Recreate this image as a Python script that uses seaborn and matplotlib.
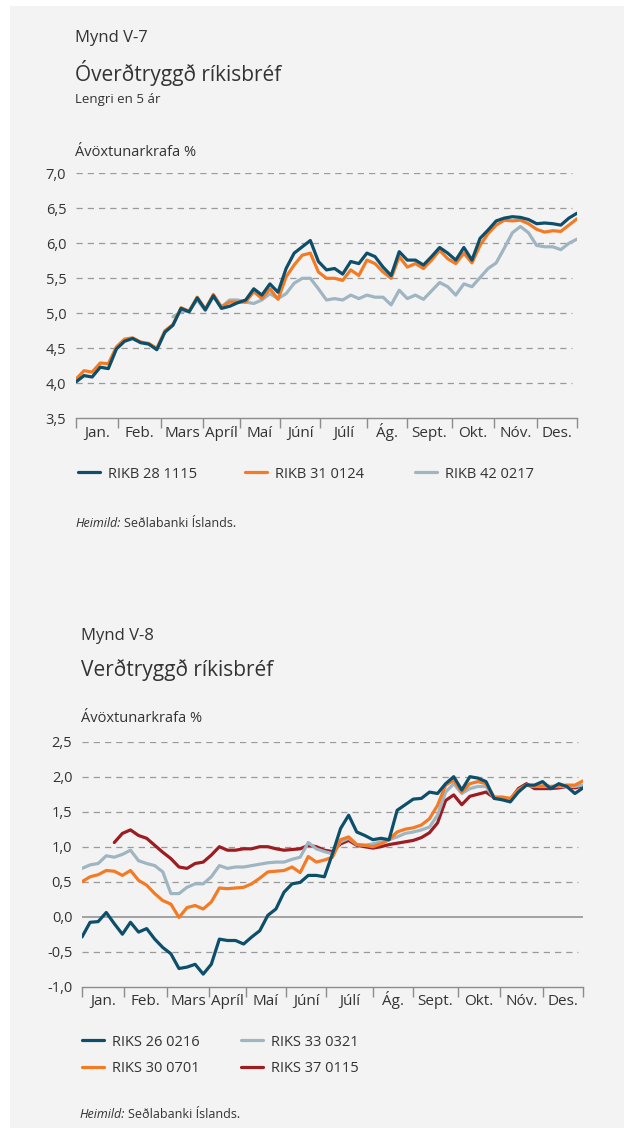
import numpy as np
import pandas as pd
import matplotlib
matplotlib.use("Agg")
import matplotlib.pyplot as plt
import seaborn as sns
from matplotlib.patches import Rectangle

sns.set_theme(style="white")
plt.rcParams['font.family'] = ['Open Sans', 'DejaVu Sans']

# Month labels and trading days per month (x axis is trading-day index)
months = ["Jan.", "Feb.", "Mars", "Apríl", "Maí", "Júní", "Júlí", "Ág.", "Sept.", "Okt.", "Nóv.", "Des."]
month_days = [21, 21, 21, 18, 20, 20, 23, 20, 22, 21, 21, 20]
days = list(range(0, 249, 4))

# Mynd V-7 - óverðtryggð ríkisbréf (ávöxtunarkrafa %)
rikb_28_1115 = [4.02, 4.11, 4.09, 4.23, 4.21, 4.49, 4.60, 4.64, 4.58, 4.56, 4.48, 4.73,
                4.83, 5.07, 5.02, 5.22, 5.05, 5.25, 5.07, 5.10, 5.15, 5.19, 5.35, 5.26,
                5.42, 5.30, 5.64, 5.86, 5.95, 6.04, 5.74, 5.62, 5.64, 5.56, 5.74, 5.71,
                5.86, 5.81, 5.66, 5.54, 5.88, 5.76, 5.76, 5.69, 5.81, 5.94, 5.86, 5.76,
                5.94, 5.76, 6.07, 6.19, 6.32, 6.36, 6.38, 6.37, 6.34, 6.28, 6.29, 6.28,
                6.26, 6.36, 6.43]
rikb_31_0124 = [4.06, 4.18, 4.16, 4.29, 4.28, 4.52, 4.63, 4.65, 4.59, 4.57, 4.50, 4.75,
                4.84, 5.08, 5.03, 5.23, 5.06, 5.27, 5.09, 5.16, 5.16, 5.16, 5.31, 5.21,
                5.35, 5.20, 5.52, 5.69, 5.83, 5.86, 5.59, 5.50, 5.50, 5.47, 5.62, 5.54,
                5.76, 5.71, 5.59, 5.50, 5.81, 5.66, 5.71, 5.64, 5.76, 5.90, 5.78, 5.71,
                5.86, 5.72, 5.97, 6.14, 6.26, 6.33, 6.32, 6.33, 6.28, 6.20, 6.16, 6.18,
                6.17, 6.26, 6.35]
rikb_42_0217 = [np.nan] * 12 + [
                4.95, 5.02, 5.04, 5.19, 5.04, 5.24, 5.09, 5.19, 5.19, 5.16, 5.14, 5.19,
                5.28, 5.21, 5.28, 5.43, 5.50, 5.50, 5.35, 5.19, 5.21, 5.19, 5.26, 5.21,
                5.26, 5.23, 5.23, 5.12, 5.33, 5.21, 5.26, 5.20, 5.32, 5.44, 5.38, 5.26,
                5.42, 5.38, 5.51, 5.64, 5.72, 5.93, 6.15, 6.24, 6.15, 5.97, 5.95, 5.95,
                5.91, 6.00, 6.06]

# Mynd V-8 - verðtryggð ríkisbréf (ávöxtunarkrafa %)
riks_26_0216 = [-0.29, -0.08, -0.07, 0.06, -0.10, -0.25, -0.08, -0.22, -0.17, -0.32, -0.44, -0.53,
                -0.74, -0.72, -0.68, -0.82, -0.68, -0.32, -0.34, -0.34, -0.39, -0.29, -0.20, 0.02,
                0.11, 0.35, 0.47, 0.49, 0.59, 0.59, 0.57, 0.90, 1.26, 1.45, 1.21, 1.16,
                1.10, 1.12, 1.10, 1.52, 1.60, 1.68, 1.69, 1.78, 1.76, 1.90, 2.00, 1.81,
                2.00, 1.98, 1.93, 1.69, 1.67, 1.64, 1.78, 1.88, 1.88, 1.93, 1.83, 1.90,
                1.86, 1.76, 1.84]
riks_30_0701 = [0.50, 0.57, 0.60, 0.66, 0.65, 0.59, 0.66, 0.52, 0.45, 0.33, 0.23, 0.18,
                -0.01, 0.13, 0.16, 0.11, 0.21, 0.41, 0.40, 0.41, 0.42, 0.47, 0.55, 0.64,
                0.65, 0.66, 0.71, 0.63, 0.86, 0.78, 0.81, 0.85, 1.10, 1.14, 1.03, 1.02,
                1.00, 1.04, 1.10, 1.21, 1.25, 1.27, 1.31, 1.40, 1.59, 1.88, 1.95, 1.78,
                1.90, 1.93, 1.90, 1.71, 1.71, 1.69, 1.81, 1.88, 1.86, 1.87, 1.86, 1.87,
                1.88, 1.88, 1.94]
riks_33_0321 = [0.69, 0.74, 0.76, 0.87, 0.85, 0.89, 0.95, 0.80, 0.76, 0.73, 0.64, 0.33,
                0.33, 0.42, 0.47, 0.47, 0.57, 0.73, 0.69, 0.71, 0.71, 0.73, 0.75, 0.77,
                0.78, 0.78, 0.82, 0.85, 1.06, 0.97, 0.93, 0.90, 1.07, 1.12, 1.03, 1.02,
                1.04, 1.07, 1.10, 1.14, 1.19, 1.21, 1.24, 1.28, 1.45, 1.78, 1.90, 1.76,
                1.83, 1.86, 1.86, 1.69, 1.69, 1.67, 1.81, 1.88, 1.86, 1.86, 1.86, 1.86,
                1.86, 1.86, 1.88]
riks_37_0115 = [np.nan] * 4 + [
                1.06, 1.19, 1.24, 1.16, 1.12, 1.02, 0.92, 0.83,
                0.71, 0.69, 0.76, 0.78, 0.88, 1.00, 0.95, 0.95, 0.97, 0.97, 1.00, 1.00,
                0.97, 0.95, 0.96, 0.97, 1.02, 1.00, 0.95, 0.93, 1.04, 1.09, 1.02, 1.00,
                0.98, 1.00, 1.03, 1.05, 1.07, 1.09, 1.13, 1.20, 1.34, 1.66, 1.74, 1.60,
                1.72, 1.75, 1.78, 1.70, 1.69, 1.67, 1.83, 1.90, 1.83, 1.83, 1.83, 1.84,
                1.86, 1.84, 1.87]

DARK = "#0d4f6b"
ORANGE = "#f47b25"
GREY = "#9fb5c2"
RED = "#9c1c22"
TXT = "#333333"
GRID = "#9a9a9a"
AXC = "#8c8c8c"

W, H = 624, 1128


def fx(px):
    return px / W


def fy(px):
    return 1 - px / H


def style_axis(ax, ylo, yhi, solid_zero=False):
    bounds = np.cumsum([0] + month_days)
    mids = (bounds[:-1] + bounds[1:]) / 2
    ax.set_xlim(0, bounds[-1])
    ax.set_ylim(ylo, yhi)
    ax.set_facecolor("none")
    for s in ["left", "right", "top"]:
        ax.spines[s].set_visible(False)
    ax.spines["bottom"].set_color(AXC)
    ax.spines["bottom"].set_linewidth(1)
    ax.set_xticks(bounds)
    ax.set_xticklabels([])
    ax.set_xticks(mids, minor=True)
    ax.set_xticklabels(months, minor=True)
    ax.tick_params(axis="x", which="major", length=7, width=1, color=AXC, direction="out", bottom=True)
    ax.tick_params(axis="x", which="minor", length=0, pad=13.5, labelsize=11, labelcolor=TXT)
    for lbl in ax.get_xticklabels(minor=True):
        lbl.set_va("baseline")
    yt = np.arange(ylo, yhi + 0.01, 0.5)
    ax.set_yticks(yt)
    ax.set_yticklabels([f"{v:.1f}".replace(".", ",") for v in yt])
    ax.tick_params(axis="y", length=0, pad=7, labelsize=10.5, labelcolor=TXT)
    ax.grid(False)
    for v in yt[1:]:
        if solid_zero and abs(v) < 1e-9:
            ax.axhline(v, color=AXC, lw=1.1, zorder=1)
        else:
            ax.axhline(v, xmin=0, xmax=0.99, color=GRID, lw=0.9, dashes=(5, 4), zorder=1)
    ax.set_xlabel("")
    ax.set_ylabel("")


def legend_entries(ax, names, spots):
    h, l = ax.get_legend_handles_labels()
    hm = dict(zip(l, h))
    ax.legend_.remove()
    for name, (xp, yp) in zip(names, spots):
        leg = ax.legend([hm[name]], [name], frameon=False, loc="center left",
                        bbox_to_anchor=(fx(xp), fy(yp)), bbox_transform=fig.transFigure,
                        fontsize=10.5, handlelength=1.5, handletextpad=0.55,
                        borderpad=0, borderaxespad=0, labelcolor=TXT)
        ax.add_artist(leg)
    # every entry is already an artist; avoid drawing the last one twice
    ax.legend_ = None


def source_note(xp, yp):
    t = fig.text(fx(xp), fy(yp), "Heimild:", fontsize=9, style="italic", color=TXT, va="center")
    bb = t.get_window_extent(renderer=fig.canvas.get_renderer())
    fig.text(bb.x1 / W + 3.5 / W, fy(yp), "Seðlabanki Íslands.", fontsize=9, color=TXT, va="center")


fig = plt.figure(figsize=(W / 100, H / 100), dpi=100, facecolor="white")
fig.patches.append(Rectangle((fx(10), 0), 1, fy(6), transform=fig.transFigure,
                             facecolor="#f3f3f3", edgecolor="none", zorder=-10))

# ---------- Mynd V-7 ----------
ax1 = fig.add_axes([fx(76), fy(418.3), 501 / W, 245 / H])
chart1 = {"RIKB 28 1115": (rikb_28_1115, DARK),
          "RIKB 31 0124": (rikb_31_0124, ORANGE),
          "RIKB 42 0217": (rikb_42_0217, GREY)}
for name in ["RIKB 42 0217", "RIKB 31 0124", "RIKB 28 1115"]:
    vals, col = chart1[name]
    df = pd.DataFrame({"dagur": days, "krafa": vals}).dropna()
    sns.lineplot(data=df, x="dagur", y="krafa", color=col, linewidth=2.3, label=name,
                 ax=ax1, zorder=3)
style_axis(ax1, 3.5, 7.0)
legend_entries(ax1, list(chart1), [(78, 474), (245, 474), (415, 474)])

fig.text(fx(75), fy(38), "Mynd V-7", fontsize=12, color=TXT, va="center")
fig.text(fx(75), fy(73), "Óverðtryggð ríkisbréf", fontsize=15, color=TXT, va="center")
fig.text(fx(75), fy(100), "Lengri en 5 ár", fontsize=9.5, color=TXT, va="center")
fig.text(fx(75), fy(152), "Ávöxtunarkrafa %", fontsize=10.5, color=TXT, va="center")
source_note(75, 523)

# ---------- Mynd V-8 ----------
ax2 = fig.add_axes([fx(82), fy(986.7), 501 / W, 245 / H])
chart2 = {"RIKS 26 0216": (riks_26_0216, DARK),
          "RIKS 30 0701": (riks_30_0701, ORANGE),
          "RIKS 33 0321": (riks_33_0321, GREY),
          "RIKS 37 0115": (riks_37_0115, RED)}
for name in ["RIKS 37 0115", "RIKS 33 0321", "RIKS 30 0701", "RIKS 26 0216"]:
    vals, col = chart2[name]
    df = pd.DataFrame({"dagur": days, "krafa": vals}).dropna()
    sns.lineplot(data=df, x="dagur", y="krafa", color=col, linewidth=2.3, label=name,
                 ax=ax2, zorder=3)
style_axis(ax2, -1.0, 2.5, solid_zero=True)
legend_entries(ax2, list(chart2), [(82, 1042), (82, 1069), (241, 1042), (241, 1069)])

fig.text(fx(81), fy(636), "Mynd V-8", fontsize=12, color=TXT, va="center")
fig.text(fx(81), fy(670), "Verðtryggð ríkisbréf", fontsize=15, color=TXT, va="center")
fig.text(fx(81), fy(719), "Ávöxtunarkrafa %", fontsize=10.5, color=TXT, va="center")
source_note(79, 1115)

fig.savefig("out.png", dpi=100, facecolor=fig.get_facecolor())
